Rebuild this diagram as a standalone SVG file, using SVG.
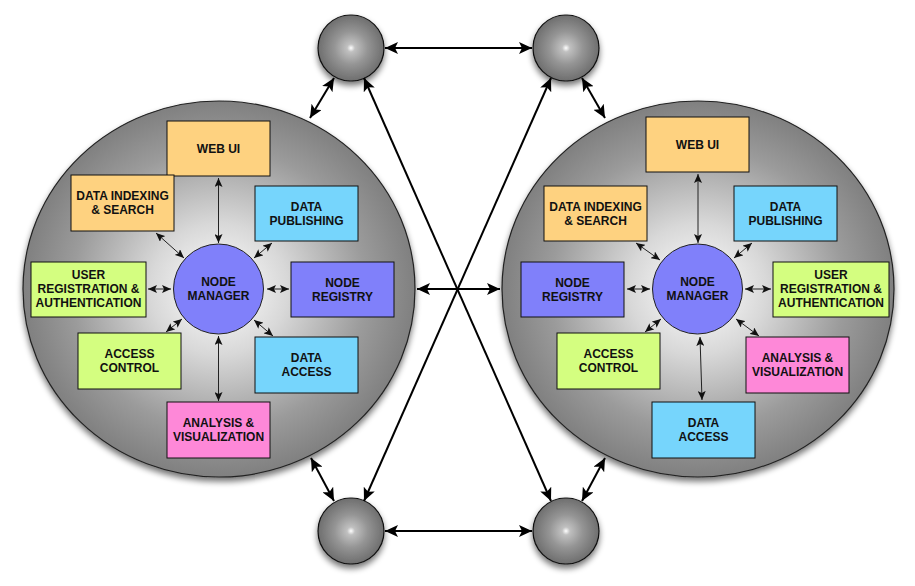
<svg xmlns="http://www.w3.org/2000/svg" width="915" height="586" viewBox="0 0 915 586">
<defs>
<radialGradient id="bigGrad" cx="0.5" cy="0.5" r="0.5">
<stop offset="0" stop-color="#ffffff"/>
<stop offset="0.35" stop-color="#d8d8d8"/>
<stop offset="0.75" stop-color="#9b9b9b"/>
<stop offset="1" stop-color="#808080"/>
</radialGradient>
<radialGradient id="ballGrad" cx="0.5" cy="0.5" r="0.5">
<stop offset="0" stop-color="#ffffff"/>
<stop offset="0.12" stop-color="#c0c0c0"/>
<stop offset="0.5" stop-color="#959595"/>
<stop offset="1" stop-color="#6e6e6e"/>
</radialGradient>
<filter id="shadow" x="-20%" y="-20%" width="140%" height="150%">
<feGaussianBlur in="SourceAlpha" stdDeviation="3"/>
<feOffset dy="4" result="b"/>
<feComponentTransfer><feFuncA type="linear" slope="0.55"/></feComponentTransfer>
<feMerge><feMergeNode/><feMergeNode in="SourceGraphic"/></feMerge>
</filter>
<marker id="bigHead" markerUnits="userSpaceOnUse" markerWidth="14" markerHeight="12" viewBox="0 0 14 12" refX="13" refY="6" orient="auto-start-reverse">
<path d="M0,0 L13,6 L0,12 L3,6 Z" fill="#000"/>
</marker>
<marker id="smallHead" markerUnits="userSpaceOnUse" markerWidth="10" markerHeight="8" viewBox="0 0 10 8" refX="9" refY="4" orient="auto-start-reverse">
<path d="M0,0 L9,4 L0,8 L2,4 Z" fill="#111"/>
</marker>
</defs>
<style>
.big{fill:url(#bigGrad);stroke:#222;stroke-width:1.2;filter:url(#shadow)}
.ball{fill:url(#ballGrad);stroke:#111;stroke-width:1.2;filter:url(#shadow)}
.box{stroke:#111;stroke-width:1}
.orange{fill:#fed280}
.blue{fill:#76d5fc}
.green{fill:#d4fe80}
.purple{fill:#8080fa}
.pink{fill:#fe88d8}
.nm{fill:#8080fa;stroke:#222;stroke-width:1}
text{font-family:"Liberation Sans",Arial,sans-serif;font-weight:bold;font-size:12px;fill:#111;text-anchor:middle}
.outer line{stroke:#000;stroke-width:2;marker-start:url(#bigHead);marker-end:url(#bigHead)}
.inner line{stroke:#222;stroke-width:1;marker-start:url(#smallHead);marker-end:url(#smallHead)}
</style>
<rect width="915" height="586" fill="#ffffff"/>

<g id="leftCluster"><ellipse class="big" cx="219" cy="289" rx="196" ry="188"/></g>
<g id="rightCluster"><ellipse class="big" cx="698" cy="289" rx="196" ry="188"/></g>

<g id="sphereTL"><circle class="ball" cx="351" cy="48" r="33"/></g>
<g id="sphereTR"><circle class="ball" cx="566" cy="48" r="33"/></g>
<g id="sphereBL"><circle class="ball" cx="351" cy="531" r="33"/></g>
<g id="sphereBR"><circle class="ball" cx="566" cy="531" r="33"/></g>

<g id="connectors">
<g class="outer">
<line x1="417" y1="289" x2="500" y2="289"/>
<line x1="385" y1="48" x2="532" y2="48"/>
<line x1="385" y1="531" x2="532" y2="531"/>
<line x1="334" y1="78" x2="310" y2="118"/>
<line x1="582" y1="78" x2="605" y2="118"/>
<line x1="311" y1="458" x2="334" y2="501"/>
<line x1="605" y1="458" x2="582" y2="501"/>
<line x1="364" y1="78" x2="551" y2="501"/>
<line x1="551" y1="78" x2="364" y2="501"/>
</g>
<g class="inner">
<line x1="218.5" y1="178" x2="218.5" y2="243"/>
<line x1="156" y1="233" x2="184" y2="258"/>
<line x1="272" y1="243" x2="254" y2="258"/>
<line x1="148" y1="289" x2="171" y2="289"/>
<line x1="267" y1="289" x2="289" y2="289"/>
<line x1="166" y1="332" x2="182" y2="319"/>
<line x1="254" y1="320" x2="273" y2="336"/>
<line x1="218.5" y1="336" x2="218.5" y2="401"/>

<line x1="698" y1="174" x2="698" y2="243"/>
<line x1="636" y1="243" x2="660" y2="260"/>
<line x1="752" y1="243" x2="734" y2="258"/>
<line x1="627" y1="289" x2="650" y2="289"/>
<line x1="745" y1="289" x2="771" y2="289"/>
<line x1="645" y1="332" x2="661" y2="319"/>
<line x1="736" y1="319" x2="759" y2="336"/>
<line x1="700" y1="337" x2="702" y2="400"/>
</g>
</g>

<g id="L-webui"><rect class="box orange" x="167" y="121" width="103" height="55"/><text x="218.5" y="152.5">WEB UI</text></g>
<g id="L-indexing"><rect class="box orange" x="71" y="175" width="103" height="56"/><text x="122.5" y="200">DATA INDEXING</text><text x="122.5" y="214">&amp; SEARCH</text></g>
<g id="L-publishing"><rect class="box blue" x="255" y="186" width="103" height="55"/><text x="306.5" y="210.5">DATA</text><text x="306.5" y="224.5">PUBLISHING</text></g>
<g id="L-user"><rect class="box green" x="31" y="262" width="115" height="55"/><text x="88.5" y="278.5">USER</text><text x="88.5" y="292.5">REGISTRATION &amp;</text><text x="88.5" y="306.5">AUTHENTICATION</text></g>
<g id="L-manager"><circle class="nm" cx="218.5" cy="289" r="45"/><text x="218.5" y="286">NODE</text><text x="218.5" y="300">MANAGER</text></g>
<g id="L-registry"><rect class="box purple" x="291" y="262" width="103" height="55"/><text x="342.5" y="286.5">NODE</text><text x="342.5" y="300.5">REGISTRY</text></g>
<g id="L-access"><rect class="box green" x="78" y="333" width="103" height="56"/><text x="129.5" y="358">ACCESS</text><text x="129.5" y="372">CONTROL</text></g>
<g id="L-dataaccess"><rect class="box blue" x="255" y="337" width="103" height="56"/><text x="306.5" y="362">DATA</text><text x="306.5" y="376">ACCESS</text></g>
<g id="L-analysis"><rect class="box pink" x="167" y="402" width="103" height="56"/><text x="218.5" y="427">ANALYSIS &amp;</text><text x="218.5" y="441">VISUALIZATION</text></g>

<g id="R-webui"><rect class="box orange" x="646" y="117" width="103" height="55"/><text x="697.5" y="148.5">WEB UI</text></g>
<g id="R-indexing"><rect class="box orange" x="544" y="186" width="103" height="55"/><text x="595.5" y="210.5">DATA INDEXING</text><text x="595.5" y="224.5">&amp; SEARCH</text></g>
<g id="R-publishing"><rect class="box blue" x="734" y="186" width="103" height="55"/><text x="785.5" y="210.5">DATA</text><text x="785.5" y="224.5">PUBLISHING</text></g>
<g id="R-registry"><rect class="box purple" x="521" y="262" width="103" height="55"/><text x="572.5" y="286.5">NODE</text><text x="572.5" y="300.5">REGISTRY</text></g>
<g id="R-manager"><circle class="nm" cx="697.5" cy="289" r="45"/><text x="697.5" y="286">NODE</text><text x="697.5" y="300">MANAGER</text></g>
<g id="R-user"><rect class="box green" x="773" y="262" width="116" height="55"/><text x="831" y="278.5">USER</text><text x="831" y="292.5">REGISTRATION &amp;</text><text x="831" y="306.5">AUTHENTICATION</text></g>
<g id="R-access"><rect class="box green" x="557" y="333" width="103" height="56"/><text x="608.5" y="358">ACCESS</text><text x="608.5" y="372">CONTROL</text></g>
<g id="R-analysis"><rect class="box pink" x="746" y="337" width="103" height="56"/><text x="797.5" y="362">ANALYSIS &amp;</text><text x="797.5" y="376">VISUALIZATION</text></g>
<g id="R-dataaccess"><rect class="box blue" x="652" y="402" width="103" height="56"/><text x="703.5" y="427">DATA</text><text x="703.5" y="441">ACCESS</text></g>
</svg>
